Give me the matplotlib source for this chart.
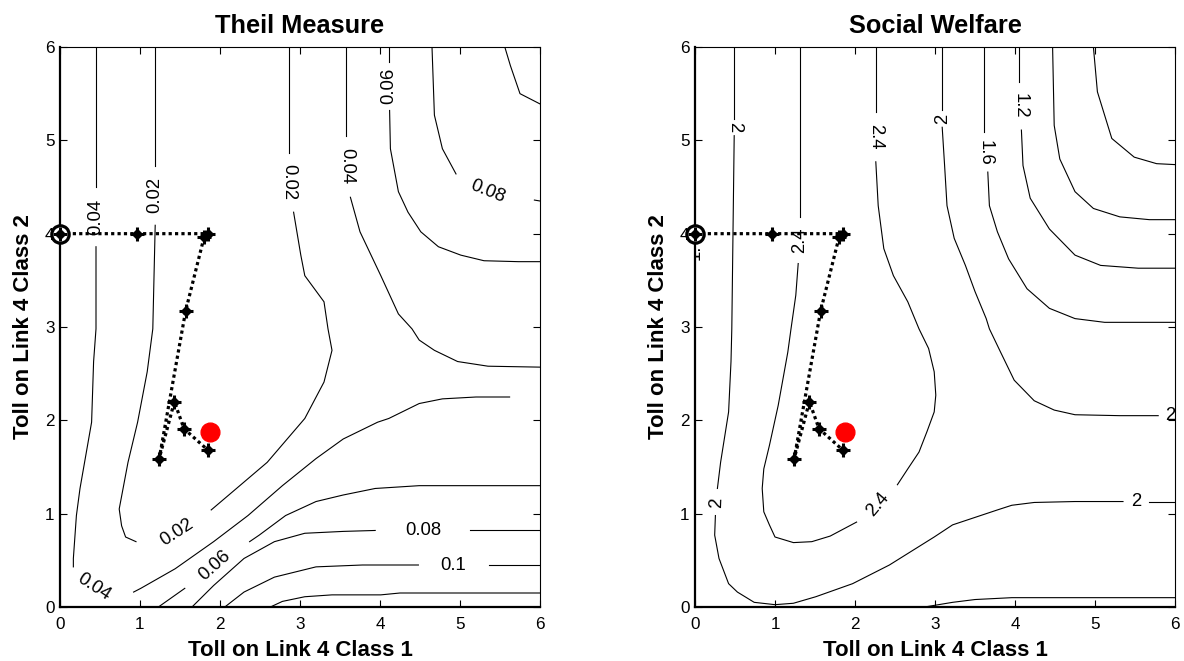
import matplotlib
matplotlib.use('Agg')
import matplotlib.pyplot as plt

plt.rcParams['font.family'] = ['Liberation Sans', 'DejaVu Sans']

# ---------------- data ----------------
ticks = [0, 1, 2, 3, 4, 5, 6]
x_label = "Toll on Link 4 Class 1"
y_label = "Toll on Link 4 Class 2"

# search path (same in both panels)
path_x = [0.0, 0.96, 1.85, 1.80, 1.57, 1.24, 1.43, 1.55, 1.85]
path_y = [4.0, 4.0, 4.0, 3.96, 3.17, 1.59, 2.20, 1.91, 1.68]
start_x, start_y = [0.0], [4.0]
opt_x, opt_y = [1.87], [1.88]

# ---- Theil measure contour segments (x, y) ----
theil_004_top = [(0.45, 6.0), (0.45, 4.50)]
theil_004_left = [(0.45, 3.86), (0.45, 2.98), (0.42, 2.63), (0.395, 1.98), (0.25, 1.27),
                  (0.205, 0.98), (0.167, 0.52), (0.167, 0.43)]
theil_004_right = [(0.92, 0.16), (1.01, 0.20), (1.44, 0.41), (1.92, 0.70), (2.35, 0.98),
                   (2.78, 1.30), (3.20, 1.59), (3.54, 1.80), (3.97, 1.98), (4.11, 2.02),
                   (4.49, 2.18), (4.78, 2.23), (5.20, 2.25), (5.62, 2.25)]
theil_002_top = [(1.19, 6.0), (1.19, 4.73)]
theil_002_left = [(1.19, 4.09), (1.16, 2.98), (1.09, 2.52), (0.97, 1.98), (0.85, 1.55),
                  (0.74, 1.05), (0.77, 0.87), (0.82, 0.75), (0.95, 0.70)]
theil_002_right = [(1.89, 1.04), (2.11, 1.20), (2.59, 1.55), (3.06, 2.02), (3.30, 2.41),
                   (3.40, 2.75), (3.35, 2.98), (3.30, 3.27), (3.06, 3.55), (3.01, 3.77),
                   (2.92, 4.23)]
theil_002_top2 = [(2.86, 4.86), (2.86, 6.0)]
theil_004b_top = [(3.57, 6.0), (3.57, 5.05)]
theil_004b_low = [(3.63, 4.39), (3.75, 4.02), (4.01, 3.55), (4.23, 3.14), (4.40, 2.98),
                  (4.49, 2.86), (4.68, 2.75), (4.97, 2.63), (5.35, 2.58), (6.0, 2.57)]
theil_006_top = [(4.11, 6.0), (4.11, 5.84)]
theil_006_low = [(4.12, 5.32), (4.13, 4.91), (4.23, 4.45), (4.35, 4.23), (4.51, 4.02),
                 (4.73, 3.86), (5.01, 3.77), (5.30, 3.71), (5.73, 3.70), (6.0, 3.70)]
theil_008_top = [(4.65, 6.0), (4.68, 5.27), (4.78, 4.91), (4.95, 4.64)]
theil_008_edge = [(5.93, 4.36), (6.0, 4.35)]
theil_010_top = [(5.56, 6.0), (5.63, 5.80), (5.75, 5.50), (6.0, 5.39)]
theil_006_bl = [(1.23, 0.0), (1.56, 0.20)]
theil_006_br = [(2.37, 0.70), (2.49, 0.77), (2.82, 0.98), (3.20, 1.13), (3.54, 1.20),
                (3.94, 1.27), (4.49, 1.30), (6.0, 1.30)]
theil_008_bl = [(1.65, 0.0), (1.92, 0.23), (2.30, 0.52), (2.68, 0.70), (3.06, 0.79),
                (3.54, 0.81), (3.94, 0.82)]
theil_008_br = [(5.13, 0.83), (6.0, 0.83)]
theil_010_bl = [(2.06, 0.0), (2.30, 0.16), (2.68, 0.32), (3.20, 0.43), (3.78, 0.45), (4.48, 0.45)]
theil_010_br = [(5.36, 0.45), (6.0, 0.45)]
theil_012 = [(2.63, 0.0), (2.78, 0.06), (3.06, 0.11), (3.40, 0.13), (4.01, 0.13),
             (4.25, 0.15), (6.0, 0.15)]

theil_segments = [theil_004_top, theil_004_left, theil_004_right, theil_002_top,
                  theil_002_left, theil_002_right, theil_002_top2, theil_004b_top,
                  theil_004b_low, theil_006_top, theil_006_low, theil_008_top,
                  theil_008_edge, theil_010_top, theil_006_bl, theil_006_br,
                  theil_008_bl, theil_008_br, theil_010_bl, theil_010_br, theil_012]

# contour labels: text, x, y, angle
theil_label_text = ["0.04", "0.02", "0.02", "0.04", "0.06", "0.08",
                    "0.04", "0.02", "0.06", "0.08", "0.1"]
theil_label_x = [0.45, 1.19, 2.86, 3.58, 4.11, 5.35, 0.42, 1.46, 1.93, 4.54, 4.92]
theil_label_y = [4.18, 4.41, 4.55, 4.72, 5.58, 4.45, 0.21, 0.80, 0.44, 0.82, 0.45]
theil_label_rot = [90, 90, -90, -90, 90, -22, -33, 33, 42, 0, 0]
theil_clipped = ("0.04", 5.99, 2.27, 0)

# ---- Social welfare contour segments ----
sw_2a_top = [(0.49, 6.0), (0.49, 5.23)]
sw_2a_mid = [(0.49, 5.05), (0.46, 2.98), (0.45, 2.63), (0.42, 2.09), (0.32, 1.55), (0.28, 1.27)]
sw_2a_low = [(0.255, 0.98), (0.246, 0.77), (0.30, 0.52), (0.42, 0.25), (0.53, 0.16),
             (0.74, 0.05), (1.0, 0.025), (1.23, 0.04), (1.51, 0.11), (1.97, 0.25),
             (2.43, 0.45), (2.99, 0.75), (3.22, 0.88), (3.50, 0.96), (3.78, 1.04),
             (3.96, 1.09), (4.24, 1.12), (4.75, 1.13), (5.35, 1.13)]
sw_2a_end = [(5.68, 1.13), (6.0, 1.13)]
sw_24_top = [(1.31, 6.0), (1.31, 4.18)]
sw_24_left = [(1.29, 3.68), (1.26, 3.34), (1.20, 2.98), (1.16, 2.73), (1.04, 2.16),
              (0.93, 1.73), (0.86, 1.48), (0.84, 1.27), (0.86, 1.02), (0.93, 0.88),
              (1.0, 0.75), (1.23, 0.69), (1.46, 0.70), (1.69, 0.76), (2.02, 0.91)]
sw_24_right = [(2.53, 1.31), (2.66, 1.48), (2.80, 1.66), (2.90, 1.88), (2.99, 2.09),
               (3.01, 2.27), (2.99, 2.52), (2.92, 2.77), (2.80, 2.98), (2.66, 3.27),
               (2.48, 3.55), (2.36, 3.84), (2.29, 4.30), (2.26, 4.77)]
sw_24_top2 = [(2.26, 5.30), (2.26, 6.0)]
sw_2b_top = [(3.09, 6.0), (3.09, 5.32)]
sw_2b_low = [(3.09, 5.14), (3.12, 4.73), (3.15, 4.30), (3.24, 3.95), (3.38, 3.66),
             (3.50, 3.38), (3.64, 3.09), (3.68, 2.98), (3.82, 2.73), (3.99, 2.43),
             (4.24, 2.21), (4.49, 2.11), (4.75, 2.06), (5.31, 2.05), (5.79, 2.05)]
sw_16_top = [(3.61, 6.0), (3.61, 5.09)]
sw_16_low = [(3.66, 4.66), (3.68, 4.30), (3.78, 4.02), (3.92, 3.73), (4.15, 3.41),
             (4.43, 3.20), (4.75, 3.09), (5.12, 3.05), (6.0, 3.05)]
sw_12_top = [(4.05, 6.0), (4.05, 5.63)]
sw_12_low = [(4.08, 5.11), (4.10, 4.73), (4.19, 4.38), (4.43, 4.05), (4.75, 3.77),
             (5.07, 3.66), (5.54, 3.63), (6.0, 3.63)]
sw_08 = [(4.47, 6.0), (4.49, 5.16), (4.56, 4.80), (4.75, 4.45), (4.98, 4.27),
         (5.31, 4.18), (5.68, 4.15), (6.0, 4.15)]
sw_04 = [(4.98, 6.0), (5.03, 5.52), (5.21, 5.02), (5.49, 4.82), (5.77, 4.75), (6.0, 4.74)]
sw_bottom = [(2.87, 0.0), (3.22, 0.05), (3.50, 0.08), (3.96, 0.10), (6.0, 0.10)]

sw_segments = [sw_2a_top, sw_2a_mid, sw_2a_low, sw_2a_end, sw_24_top, sw_24_left,
               sw_24_right, sw_24_top2, sw_2b_top, sw_2b_low, sw_16_top, sw_16_low,
               sw_12_top, sw_12_low, sw_08, sw_04, sw_bottom]

sw_label_text = ["2", "2", "2", "2.4", "2.4", "2.4", "2", "1.6", "1.2"]
sw_label_x = [0.49, 0.27, 5.51, 1.31, 2.29, 2.26, 3.09, 3.63, 4.06]
sw_label_y = [5.14, 1.12, 1.13, 3.93, 1.10, 5.04, 5.23, 4.87, 5.37]
sw_label_rot = [-90, 88, 0, 90, 50, -90, 90, -90, -90]
sw_edge_label = ("2", 6.0, 2.05, 0)
sw_clipped = ("1.", 0.0, 3.80, 90)

# ---------------- drawing ----------------
fig = plt.figure(figsize=(11.84, 6.61), dpi=100)
ax1 = fig.add_axes([60 / 1184, 54 / 661, 480 / 1184, 560 / 661])
ax2 = fig.add_axes([695 / 1184, 54 / 661, 480 / 1184, 560 / 661])

LBL = 13.3


def draw_panel(ax, title, segments, ltext, lx, ly, lrot):
    for seg in segments:
        xs = [p[0] for p in seg]
        ys = [p[1] for p in seg]
        ax.plot(xs, ys, color='black', lw=0.8, zorder=1)
    for t, x, y, r in zip(ltext, lx, ly, lrot):
        ax.text(x, y, t, rotation=r, ha='center', va='center', fontsize=LBL,
                rotation_mode='anchor', zorder=2)
    # search path
    ax.plot(path_x, path_y, color='black', lw=2.3, ls=(0, (1, 1)), zorder=3,
            clip_on=False)
    ax.plot(start_x, start_y, 'o', ms=12.5, mfc='white', mec='black', mew=2.3,
            zorder=4, clip_on=False)
    ax.plot(path_x, path_y, 'D', ms=5.5, color='black', ls='none', zorder=5, clip_on=False)
    ax.plot(path_x, path_y, '+', ms=9.5, mew=2.2, color='black', ls='none', zorder=5,
            clip_on=False)
    ax.plot(opt_x, opt_y, 'o', ms=13.5, color='#ff0000', mec='#ff0000', zorder=6)

    ax.set_xlim(0, 6)
    ax.set_ylim(0, 6)
    ax.set_xticks(ticks)
    ax.set_yticks(ticks)
    ax.tick_params(direction='in', top=True, right=True, length=5, width=0.8,
                   labelsize=12.3)
    ax.tick_params(axis='x', pad=7)
    ax.tick_params(axis='y', pad=4)
    for side in ['left', 'bottom']:
        ax.spines[side].set_linewidth(1.6)
    for side in ['top', 'right']:
        ax.spines[side].set_linewidth(0.8)
    ax.set_title(title, fontsize=18.3, fontweight='bold', pad=10)
    ax.set_xlabel(x_label, fontsize=16, fontweight='bold', labelpad=6)
    ax.set_ylabel(y_label, fontsize=16, fontweight='bold', labelpad=8)


draw_panel(ax1, "Theil Measure", theil_segments, theil_label_text, theil_label_x,
           theil_label_y, theil_label_rot)
draw_panel(ax2, "Social Welfare", sw_segments, sw_label_text, sw_label_x,
           sw_label_y, sw_label_rot)

t, x, y, r = theil_clipped
ax1.text(x, y, t, rotation=r, ha='left', va='center', fontsize=LBL, clip_on=True)
t, x, y, r = sw_edge_label
ax2.text(x, y, t, rotation=r, ha='right', va='center', fontsize=LBL)
t, x, y, r = sw_clipped
ax2.text(x, y, t, rotation=r, ha='center', va='center', fontsize=LBL, clip_on=True,
         rotation_mode='anchor', zorder=2)

fig.savefig('out.png', dpi=100)
